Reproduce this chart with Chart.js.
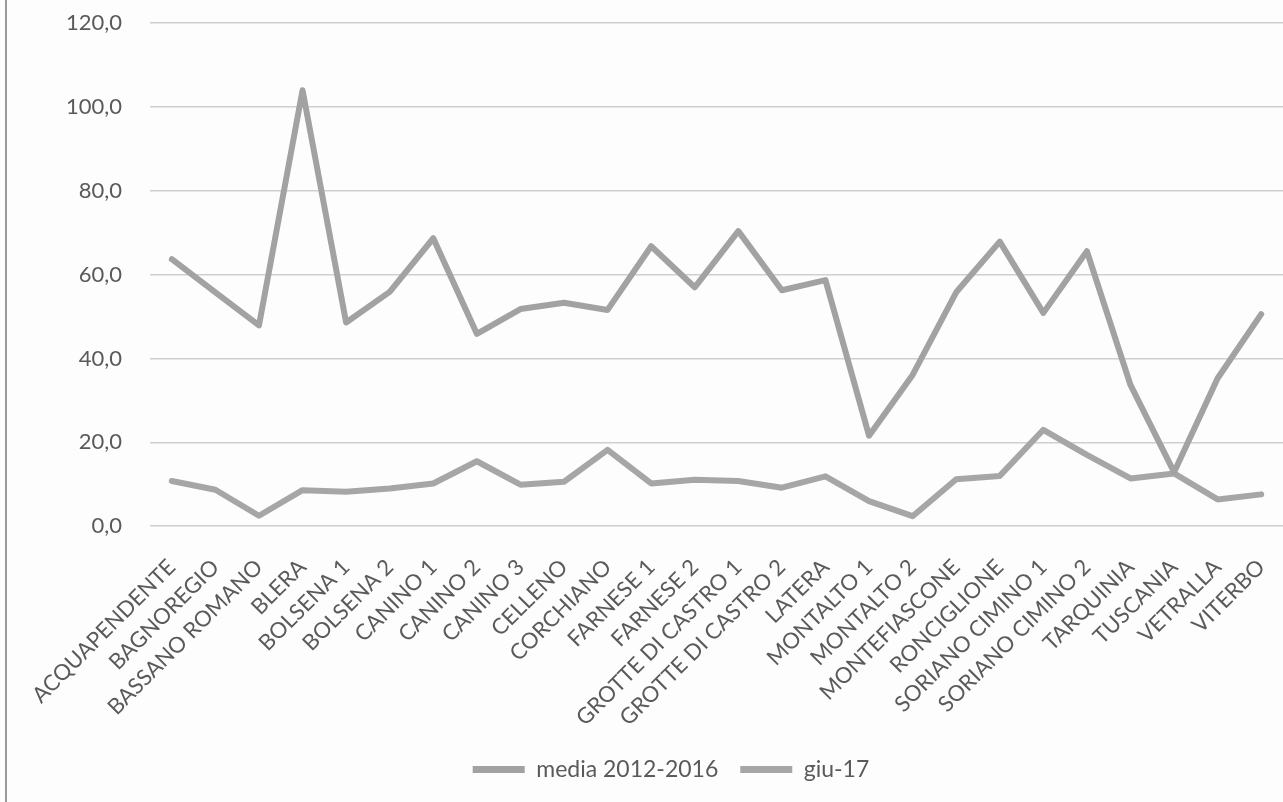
<!DOCTYPE html>
<html>
<head>
<meta charset="utf-8">
<script src="https://cdn.jsdelivr.net/npm/chart.js@4"></script>
<style>
    html, body { margin: 0; padding: 0; background: #fdfdfd; overflow: hidden; }
    #wrap {
        position: relative;
        width: 1278px;
        height: 802px;
        box-sizing: border-box;
        border-left: 2px solid #9a9a9a;
        margin-left: 5px;
    }
</style>
</head>
<body>
<div id="wrap"><canvas id="myChart"></canvas></div>
<script>
const categories = [
    "ACQUAPENDENTE", "BAGNOREGIO", "BASSANO ROMANO", "BLERA", "BOLSENA 1", "BOLSENA 2",
    "CANINO 1", "CANINO 2", "CANINO 3", "CELLENO", "CORCHIANO", "FARNESE 1", "FARNESE 2",
    "GROTTE DI CASTRO 1", "GROTTE DI CASTRO 2", "LATERA", "MONTALTO 1", "MONTALTO 2",
    "MONTEFIASCONE", "RONCIGLIONE", "SORIANO CIMINO 1", "SORIANO CIMINO 2", "TARQUINIA",
    "TUSCANIA", "VETRALLA", "VITERBO"
];

const media20122016 = [
    63.7, 55.8, 47.9, 104.0, 48.6, 55.9, 68.7, 45.9, 51.8, 53.3, 51.6, 66.8, 57.0,
    70.4, 56.3, 58.7, 21.6, 36.1, 55.8, 67.9, 50.9, 65.6, 33.7, 12.9, 35.3, 50.6
];

const giu17 = [
    10.8, 8.7, 2.5, 8.6, 8.2, 9.0, 10.2, 15.5, 9.9, 10.6, 18.2, 10.2, 11.1,
    10.8, 9.2, 11.9, 6.0, 2.4, 11.2, 12.0, 23.0, 17.0, 11.4, 12.6, 6.4, 7.6
];

const yTicks = [0, 20, 40, 60, 80, 100, 120];

const lineGray = "#a6a6a6";
const textGray = "#5a5a5a";
const fontFamily = "Lato, 'Open Sans', sans-serif";

function generateChart() {
    const ctx = document.getElementById("myChart").getContext("2d");
    return new Chart(ctx, {
        type: "line",
        data: {
            labels: categories,
            datasets: [{
                label: "media 2012-2016",
                data: media20122016,
                borderColor: "#a2a2a2",
                backgroundColor: "#a2a2a2",
                borderWidth: 6,
                pointRadius: 0,
                tension: 0,
                borderCapStyle: "round",
                borderJoinStyle: "round"
            }, {
                label: "giu-17",
                data: giu17,
                borderColor: lineGray,
                backgroundColor: lineGray,
                borderWidth: 6,
                pointRadius: 0,
                tension: 0,
                borderCapStyle: "round",
                borderJoinStyle: "round"
            }]
        },
        options: {
            responsive: true,
            maintainAspectRatio: false,
            animation: false,
            layout: {
                padding: { left: 49, right: -3, top: 0, bottom: 11 }
            },
            scales: {
                x: {
                    offset: true,
                    grid: { display: false },
                    border: { display: false },
                    ticks: {
                        color: textGray,
                        font: { family: fontFamily, size: 22 },
                        minRotation: 45,
                        maxRotation: 45,
                        autoSkip: false,
                        padding: 20
                    },
                    // let the long rotated names hang past the left edge
                    afterFit: (axis) => {
                        axis.paddingLeft = 0;
                        axis.paddingRight = 0;
                        axis.height -= 15;
                    }
                },
                y: {
                    min: 0,
                    max: 120,
                    afterBuildTicks: (axis) => {
                        axis.ticks = yTicks.map(v => ({ value: v }));
                    },
                    grid: {
                        color: "#cfcfcf",
                        lineWidth: 1.5,
                        drawTicks: true,
                        tickLength: 18,
                        tickColor: "rgba(0,0,0,0)"
                    },
                    border: { display: false },
                    ticks: {
                        color: textGray,
                        font: { family: fontFamily, size: 22 },
                        padding: 10,
                        callback: (value) => value.toFixed(1).replace(".", ",")
                    }
                }
            },
            plugins: {
                legend: {
                    position: "bottom",
                    labels: {
                        color: textGray,
                        font: { family: fontFamily, size: 23 },
                        boxWidth: 52,
                        boxHeight: 7,
                        padding: 22,
                        generateLabels: (chart) =>
                            Chart.defaults.plugins.legend.labels.generateLabels(chart)
                                .map(item => ({ ...item, lineWidth: 0 }))
                    }
                },
                tooltip: { enabled: false }
            }
        }
    });
}

const chart = generateChart();
</script>
</body>
</html>
